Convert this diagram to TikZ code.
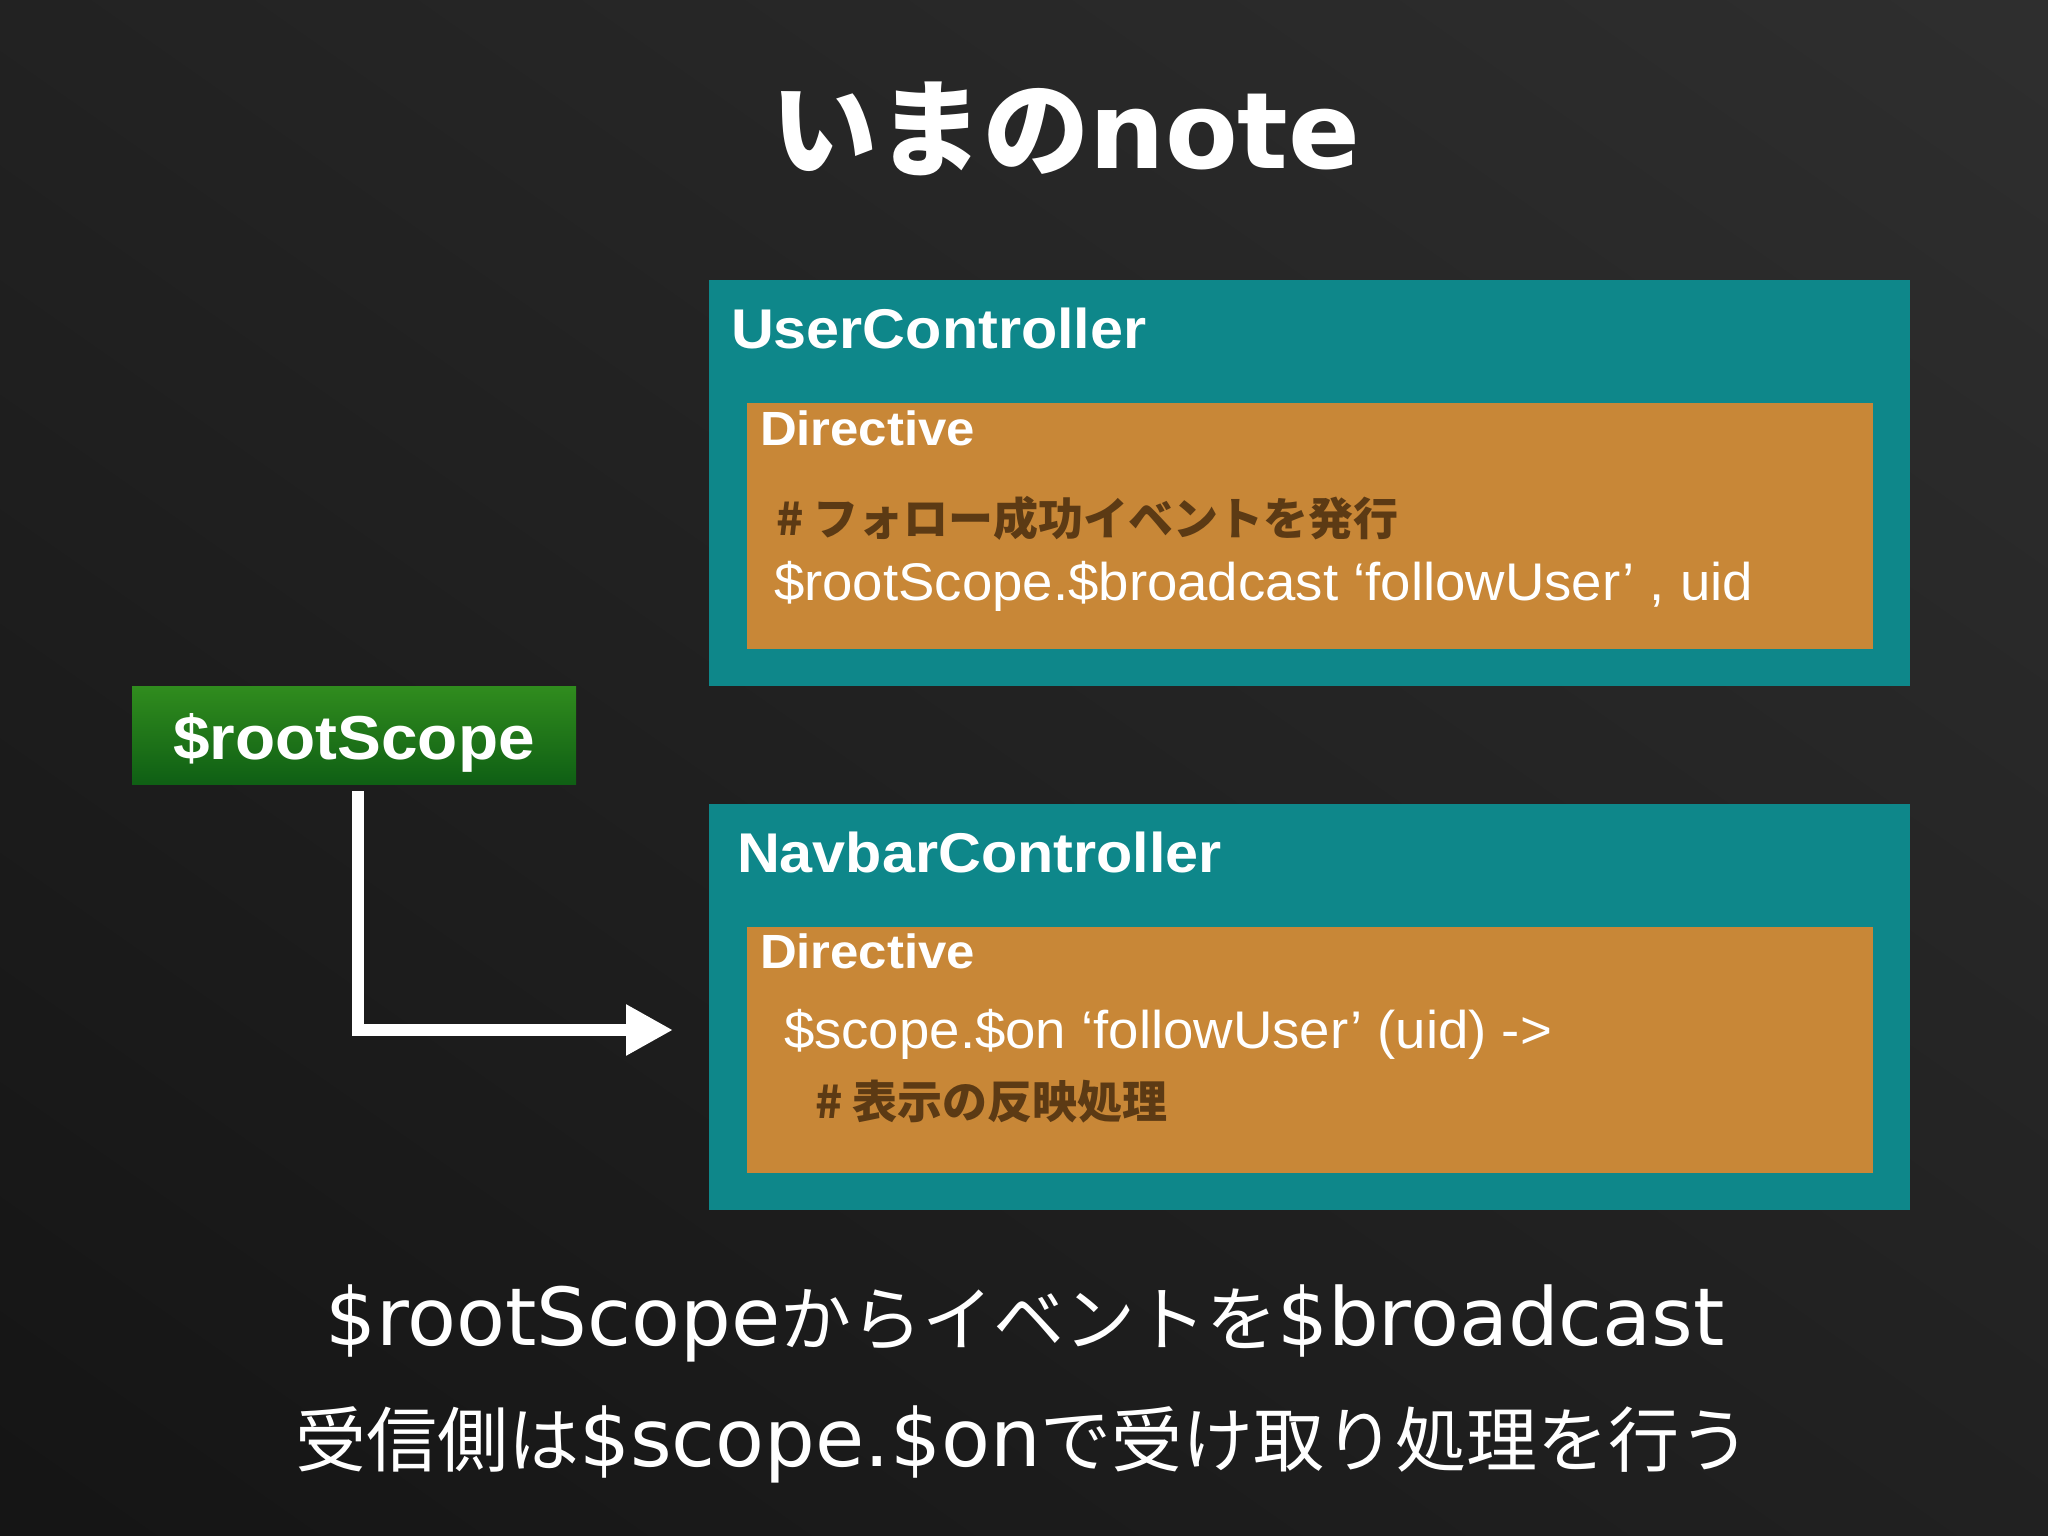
\documentclass[tikz,border=0pt]{standalone}
\usepackage{fontspec}
\setmainfont{Liberation Sans}
\newfontfamily\hv{Liberation Sans}
\newfontfamily\hvlbl{Liberation Sans}[FakeStretch=1.06]
\newfontfamily\hvcode{Liberation Sans}[FakeStretch=1.03]
\newfontfamily\jp{Noto Sans CJK JP}
\newfontfamily\dv{DejaVu Sans}
\usetikzlibrary{arrows.meta}
\definecolor{bgtop}{HTML}{2E2E2E}
\definecolor{bgbot}{HTML}{151515}
\definecolor{tealbox}{HTML}{0E878A}
\definecolor{orangebox}{HTML}{C88737}
\definecolor{browntext}{HTML}{5C3A14}
\definecolor{greentop}{HTML}{308C1E}
\definecolor{greenbot}{HTML}{0F5F14}
\tikzset{
  ctrlbox/.style={fill=tealbox, draw=none, inner sep=0pt, anchor=north west, minimum width=1201pt, minimum height=406pt},
  dirbox/.style={fill=orangebox, draw=none, inner sep=0pt, anchor=north west, minimum width=1126pt, minimum height=246pt},
  txt/.style={inner sep=0pt, outer sep=0pt, anchor=base west, text=white},
  ctrllabel/.style={txt, font=\hvlbl\bfseries\fontsize{56}{60}\selectfont},
  dirlabel/.style={txt, font=\hvlbl\bfseries\fontsize{48}{52}\selectfont},
  codetext/.style={txt, font=\hvcode\fontsize{53}{58}\selectfont},
  commenttext/.style={txt, text=browntext, font=\jp\bfseries\fontsize{45}{50}\selectfont},
  bottomtext/.style={inner sep=0pt, anchor=base, text=white},
  flow/.style={draw=white, line width=12.5pt, -{Triangle[length=47pt,width=48pt]}}
}
\newcommand{\btmlat}[1]{{\dv\fontsize{80}{86}\selectfont #1}}
\newcommand{\btmcjk}[1]{{\jp\fontsize{71}{80}\selectfont #1}}
\begin{document}
\begin{tikzpicture}[x=1pt,y=-1pt]
\path[use as bounding box] (0,0) rectangle (2048,1536);
\shade[top color=bgtop, bottom color=bgbot, shading angle=-35] (-300,-300) rectangle (2348,1836);
\clip (0,0) rectangle (2048,1536);

% title
\node[inner sep=0pt, anchor=base, text=white] (title) at (1066,168)
  {\fontsize{106}{116}\selectfont\jp\bfseries いまの{\dv\bfseries note}};

% UserController
\node[ctrlbox] (user) at (709,280) {};
\node[ctrllabel] (userlbl) at (731,348) {UserController};
\node[dirbox] (userdir) at (747,403) {};
\node[dirlabel] (userdirlbl) at (760,445) {Directive};
\node[commenttext] (usercomment) at (776,535) {\# フォロー成功イベントを発行};
\node[codetext] (usercode) at (774,600) {\$rootScope.\$broadcast ‘followUser’ , uid};

% NavbarController
\node[ctrlbox] (nav) at (709,804) {};
\node[ctrllabel] (navlbl) at (737,872) {NavbarController};
\node[dirbox] (navdir) at (747,927) {};
\node[dirlabel] (navdirlbl) at (760,968) {Directive};
\node[codetext] (navcode) at (784,1048) {\$scope.\$on ‘followUser’ (uid) ->};
\node[commenttext] (navcomment) at (815,1118) {\# 表示の反映処理};

% $rootScope
\node[inner sep=0pt, anchor=north west, minimum width=444pt, minimum height=98pt,
      top color=greentop, bottom color=greenbot, draw=none] (root) at (132,686) {};
\node[inner sep=0pt, anchor=base, text=white, font=\hvlbl\bfseries\fontsize{62}{66}\selectfont]
  (rootlbl) at (354,759) {\$rootScope};

% arrow
\coordinate (tip) at (673,1030);
\draw[flow] ([xshift=4pt,yshift=-7pt]root.south) |- (tip);

% bottom text
\node[bottomtext] (line1) at (1025,1345)
  {\btmlat{\$rootScope}\btmcjk{からイベントを}\btmlat{\$broadcast}};
\node[bottomtext] (line2) at (1023,1466)
  {\btmcjk{受信側は}\btmlat{\$scope.\$on}\btmcjk{で受け取り処理を行う}};
\end{tikzpicture}
\end{document}
